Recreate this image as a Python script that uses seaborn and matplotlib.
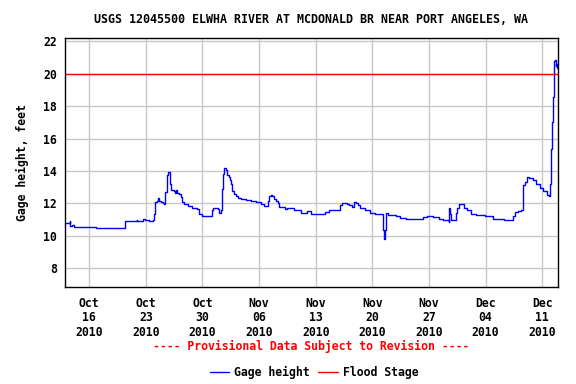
import pandas as pd
import matplotlib
matplotlib.use("Agg")
import matplotlib.pyplot as plt
import matplotlib.dates as mdates
import seaborn as sns

# gage readings (time, feet)
times = [
    "2010-10-13 00:00", "2010-10-13 14:00", "2010-10-13 16:00", "2010-10-13 21:00",
    "2010-10-14 03:00", "2010-10-16 20:00", "2010-10-20 10:00", "2010-10-21 22:00",
    "2010-10-21 23:00", "2010-10-22 16:00", "2010-10-22 21:00", "2010-10-23 10:00",
    "2010-10-23 20:00", "2010-10-24 01:00", "2010-10-24 04:00", "2010-10-24 08:00",
    "2010-10-24 12:00", "2010-10-24 16:00", "2010-10-24 20:00", "2010-10-25 04:00",
    "2010-10-25 07:00", "2010-10-25 10:00", "2010-10-25 14:00", "2010-10-25 16:00",
    "2010-10-25 19:00", "2010-10-25 23:00", "2010-10-26 01:00", "2010-10-26 04:00",
    "2010-10-26 10:00", "2010-10-26 14:00", "2010-10-26 17:00", "2010-10-26 20:00",
    "2010-10-27 01:00", "2010-10-27 07:00", "2010-10-27 11:00", "2010-10-27 17:00",
    "2010-10-28 06:00", "2010-10-28 16:00", "2010-10-29 07:00", "2010-10-29 15:00",
    "2010-10-30 00:00", "2010-10-31 03:00", "2010-10-31 08:00", "2010-10-31 22:00",
    "2010-11-01 01:00", "2010-11-01 06:00", "2010-11-01 11:00", "2010-11-01 14:00",
    "2010-11-01 17:00", "2010-11-01 23:00", "2010-11-02 02:00", "2010-11-02 06:00",
    "2010-11-02 10:00", "2010-11-02 13:00", "2010-11-02 17:00", "2010-11-02 21:00",
    "2010-11-03 03:00", "2010-11-03 10:00", "2010-11-03 17:00", "2010-11-04 09:00",
    "2010-11-04 23:00", "2010-11-05 15:00", "2010-11-06 06:00", "2010-11-06 16:00",
    "2010-11-07 01:00", "2010-11-07 05:00", "2010-11-07 10:00", "2010-11-07 14:00",
    "2010-11-07 20:00", "2010-11-08 02:00", "2010-11-08 08:00", "2010-11-08 12:00",
    "2010-11-09 05:00", "2010-11-09 12:00", "2010-11-10 09:00", "2010-11-11 03:00",
    "2010-11-11 23:00", "2010-11-12 10:00", "2010-11-14 04:00", "2010-11-14 16:00",
    "2010-11-16 00:00", "2010-11-16 05:00", "2010-11-16 20:00", "2010-11-17 04:00",
    "2010-11-17 12:00", "2010-11-17 18:00", "2010-11-17 23:00", "2010-11-18 05:00",
    "2010-11-18 11:00", "2010-11-19 03:00", "2010-11-19 17:00", "2010-11-20 08:00",
    "2010-11-21 08:00", "2010-11-21 12:00", "2010-11-21 14:00", "2010-11-21 16:00",
    "2010-11-21 23:00", "2010-11-22 22:00", "2010-11-23 10:00", "2010-11-24 04:00",
    "2010-11-26 07:00", "2010-11-26 17:00", "2010-11-27 13:00", "2010-11-28 06:00",
    "2010-11-28 18:00", "2010-11-29 11:00", "2010-11-29 12:00", "2010-11-29 14:00",
    "2010-11-29 17:00", "2010-11-30 08:00", "2010-11-30 12:00", "2010-11-30 16:00",
    "2010-12-01 08:00", "2010-12-01 16:00", "2010-12-02 06:00", "2010-12-02 21:00",
    "2010-12-03 07:00", "2010-12-03 23:00", "2010-12-04 23:00", "2010-12-06 08:00",
    "2010-12-07 10:00", "2010-12-07 14:00", "2010-12-08 00:00", "2010-12-08 10:00",
    "2010-12-08 16:00", "2010-12-08 22:00", "2010-12-09 04:00", "2010-12-09 10:00",
    "2010-12-09 21:00", "2010-12-10 07:00", "2010-12-10 17:00", "2010-12-11 03:00",
    "2010-12-11 13:00", "2010-12-11 20:00", "2010-12-11 23:00", "2010-12-12 01:00",
    "2010-12-12 03:00", "2010-12-12 05:00", "2010-12-12 08:00", "2010-12-12 10:00",
    "2010-12-12 12:00", "2010-12-12 14:00", "2010-12-12 16:00", "2010-12-12 18:00",
    "2010-12-12 21:00", "2010-12-12 23:00",
]
gage_height = [
    10.81, 10.91, 10.64, 10.70,
    10.56, 10.50, 10.89, 10.99,
    10.93, 11.07, 10.95, 10.91,
    10.99, 11.36, 12.08, 12.18,
    12.33, 12.14, 12.06, 12.02,
    11.94, 12.70, 13.01, 13.73,
    13.91, 13.73, 13.21, 12.80,
    12.76, 12.64, 12.84, 12.64,
    12.56, 12.39, 12.06, 11.94,
    11.86, 11.73, 11.63, 11.36,
    11.24, 11.57, 11.71, 11.65,
    11.40, 11.57, 12.91, 13.79,
    14.20, 14.04, 13.73, 13.63,
    13.42, 13.17, 12.74, 12.56,
    12.45, 12.35, 12.27, 12.23,
    12.16, 12.10, 11.94, 11.86,
    12.14, 12.49, 12.53, 12.43,
    12.27, 12.14, 12.02, 11.81,
    11.65, 11.73, 11.57, 11.40,
    11.51, 11.32, 11.47, 11.61,
    11.88, 12.04, 11.98, 11.88,
    11.81, 12.10, 12.02, 11.90,
    11.69, 11.57, 11.44, 11.32,
    10.37, 9.82, 10.37, 11.42,
    11.28, 11.20, 11.11, 11.05,
    11.16, 11.24, 11.16, 11.05,
    10.99, 10.85, 11.73, 11.36,
    10.99, 11.40, 11.73, 11.98,
    11.73, 11.57, 11.36, 11.26,
    11.30, 11.20, 11.05, 10.99,
    11.20, 11.46, 11.53, 11.61,
    13.11, 13.32, 13.63, 13.58,
    13.42, 13.21, 12.97, 12.74,
    12.53, 12.43, 13.21, 14.14,
    15.38, 17.02, 18.56, 20.00,
    20.79, 20.87, 20.46, 20.62,
    20.37, 20.37,
]
flood_stage = 20.0
yticks = [8, 10, 12, 14, 16, 18, 20, 22]

df = pd.DataFrame({"time": pd.to_datetime(times), "height": gage_height})

sns.set_style("white")
plt.rcParams["font.family"] = ["DejaVu Sans Mono"]
plt.rcParams["font.weight"] = "bold"
plt.rcParams["text.color"] = "black"
plt.rcParams["axes.labelcolor"] = "black"
plt.rcParams["xtick.color"] = "black"
plt.rcParams["ytick.color"] = "black"

fig = plt.figure(figsize=(5.76, 3.84), dpi=100)
ax = fig.add_axes([65 / 576, 1 - 287 / 384, 493 / 576, 249 / 384])

sns.lineplot(data=df, x="time", y="height", ax=ax, color="#0000ff",
             linewidth=1.0, drawstyle="steps-post", estimator=None,
             sort=False, label="Gage height", legend=False)
ax.axhline(flood_stage, color="#ff0000", linewidth=1.0, label="Flood Stage")

ax.set_xlim(pd.Timestamp("2010-10-13 00:00"), pd.Timestamp("2010-12-12 23:00"))
ax.set_ylim(6.85, 22.2)
ax.set_yticks(yticks)
ax.set_xticks(pd.date_range("2010-10-16", "2010-12-11", freq="7D"))
ax.xaxis.set_major_formatter(mdates.DateFormatter("%b\n%d\n%Y"))
ax.grid(True, color="#c8c8c8", linewidth=1.0)
ax.set_axisbelow(True)
for s in ax.spines.values():
    s.set_color("black")
    s.set_linewidth(1.0)
ax.tick_params(length=0, labelsize=8.3, labelcolor="black")
ax.tick_params(axis="x", pad=7)
ax.tick_params(axis="y", pad=6)
for lab in ax.get_xticklabels():
    lab.set_fontweight("bold")
    lab.set_linespacing(1.15)
for lab in ax.get_yticklabels():
    lab.set_fontweight("bold")
ax.set_xlabel("")
ax.set_ylabel("Gage height, feet", fontsize=8.3, fontweight="bold", labelpad=10,
              color="black")

fig.text(310.5 / 576, 1 - 19.3 / 384, "USGS 12045500 ELWHA RIVER AT MCDONALD BR NEAR PORT ANGELES, WA",
         ha="center", va="center", fontsize=8.4, fontweight="bold", color="black")
fig.text(311 / 576, 1 - 346 / 384, "---- Provisional Data Subject to Revision ----",
         ha="center", va="center", fontsize=8.3, fontweight="bold", color="#ff0000")

handles, labels = ax.get_legend_handles_labels()
leg = fig.legend(handles, labels, loc="center", bbox_to_anchor=(314 / 576, 1 - 372 / 384),
                 ncol=2, frameon=False, handlelength=1.7,
                 handletextpad=0.45, columnspacing=0.7,
                 prop={"family": "DejaVu Sans Mono", "weight": "bold", "size": 8.3})
for txt in leg.get_texts():
    txt.set_color("black")

fig.savefig("out.png", dpi=100)
